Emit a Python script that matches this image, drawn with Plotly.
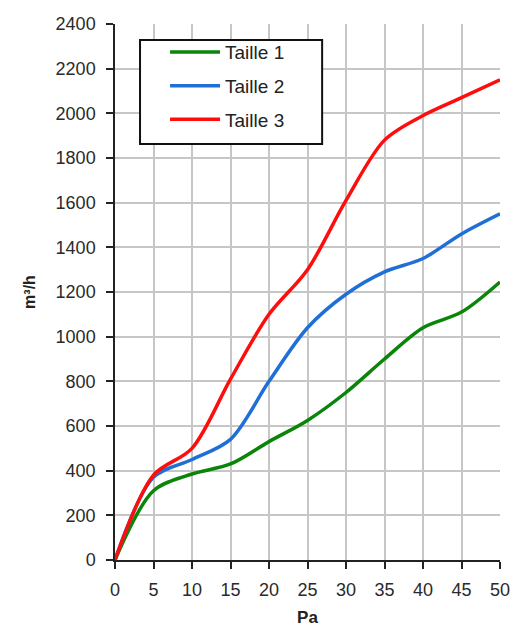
import plotly.graph_objects as go

# pression (Pa) et debit (m³/h)
pa = [0, 5, 10, 15, 20, 25, 30, 35, 40, 45, 50]
taille_1 = [0, 310, 385, 430, 530, 625, 750, 900, 1040, 1110, 1245]
taille_2 = [0, 370, 450, 540, 800, 1040, 1190, 1290, 1350, 1460, 1550]
taille_3 = [0, 380, 500, 810, 1100, 1300, 1610, 1880, 1990, 2070, 2150]

series = [("Taille 1", taille_1, "#0a850a"),
          ("Taille 2", taille_2, "#1f6fd6"),
          ("Taille 3", taille_3, "#ff0d0d")]

# grid lines only inside the frame (none on the top / right edge)
x_grid = [5, 10, 15, 20, 25, 30, 35, 40, 45]
y_grid = [200, 400, 600, 800, 1000, 1200, 1400, 1600, 1800, 2000, 2200]

fig = go.Figure()
for name, y, col in series:
    fig.add_trace(go.Scatter(x=pa, y=y, name=name, mode="lines", legendgroup=name,
                             line=dict(color=col, width=3.5, shape="spline", smoothing=0.9)))

tickfont = dict(family="Arial, Liberation Sans", size=18, color="#2a2a2a")
grid = dict(showgrid=True, gridcolor="#c6c6c6", gridwidth=1.5, ticks="")

# frame around the legend (wider than plotly's own legend box)
fig.add_shape(type="rect", xref="paper", yref="paper",
              x0=0.065, x1=0.538, y0=0.776, y1=0.970,
              line=dict(color="#111", width=2), fillcolor="white", layer="above")

# page body has an 8px margin, so the figure is a bit smaller than the window
fig.update_layout(
    width=506, height=619,
    margin=dict(l=107, r=14, t=16, b=67, autoexpand=False),
    paper_bgcolor="white", plot_bgcolor="white",
    font=dict(family="Arial, Liberation Sans", color="#222"),
    xaxis=dict(range=[0, 50], dtick=5, showline=True, linecolor="#222", linewidth=1.5,
               ticks="outside", ticklen=7, tickcolor="#222", tickwidth=1.5,
               ticklabelstandoff=6, showgrid=False, zeroline=False, tickfont=tickfont,
               automargin=False, minor=dict(tickvals=x_grid, **grid),
               title=dict(text="<b>Pa</b>", font=dict(size=17), standoff=21)),
    yaxis=dict(range=[0, 2400], dtick=200, showline=True, linecolor="#222", linewidth=1.5,
               ticks="outside", ticklen=7, tickcolor="#222", tickwidth=1.5,
               ticklabelstandoff=7, showgrid=False, zeroline=False, tickfont=tickfont,
               automargin=False, minor=dict(tickvals=y_grid, **grid),
               title=dict(text="<b>m³/h</b>", font=dict(size=16), standoff=16)),
    legend=dict(x=0.130, y=0.983, xanchor="left", yanchor="top",
                bgcolor="rgba(0,0,0,0)", borderwidth=0,
                font=dict(size=19, color="#222"), tracegroupgap=6,
                itemwidth=50),
    showlegend=True,
)

fig.write_html("out.html")
